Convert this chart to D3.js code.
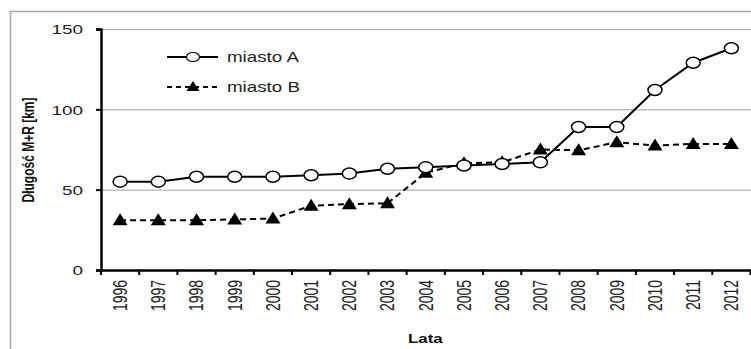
<!DOCTYPE html>
<html><head><meta charset="utf-8">
<script src="https://cdn.jsdelivr.net/npm/d3@7"></script>
<style>body{margin:0;background:#fff}svg{display:block}</style>
</head><body>
<script>
const years = ["1996","1997","1998","1999","2000","2001","2002","2003","2004","2005","2006","2007","2008","2009","2010","2011","2012"];
const miastoA = [55,55,58,58,58,59,60,63,64,65,66,67,89,89,112,129,138];
const miastoB = [31,31,31,31.5,32,40,41,41.5,60.5,66.5,67,75,74.5,79.5,77.5,78.5,78.5];
const yTicks = [0,50,100,150];
const seriesNames = ["miasto A","miasto B"];

const W=751,H=349, SX=1.4;
const svg=d3.select("body").append("svg").attr("width",W).attr("height",H);
svg.append("rect").attr("width",W).attr("height",H).attr("fill","#fff");
svg.append("path").attr("d","M10.5,349 V11.5 H751").attr("fill","none").attr("stroke","#a6a6a6").attr("stroke-width",1.5);

const x=d3.scaleBand().domain(years).range([101,750.5]);
const y=d3.scaleLinear().domain([0,150]).range([270,29]);
const font="'Liberation Sans', Arial, sans-serif";

svg.append("g").selectAll("line").data(yTicks.filter(d=>d>0)).join("line")
 .attr("x1",101).attr("x2",W).attr("y1",d=>y(d)+0.5).attr("y2",d=>y(d)+0.5)
 .attr("stroke","#a0a0a0").attr("stroke-width",1);

const yA=svg.append("g").attr("transform","translate(101,0)")
 .call(d3.axisLeft(y).tickValues(yTicks).tickSize(5).tickPadding(6));
yA.select(".domain").attr("stroke","#000").attr("stroke-width",2.5);
yA.selectAll(".tick line").attr("stroke","#000").attr("stroke-width",2);
yA.selectAll(".tick text").attr("font-family",font).attr("font-size",13.5).attr("fill","#222")
 .attr("x",0).attr("dy","0.35em")
 .attr("transform","translate(-18,0) scale("+SX+",1)");

const xA=svg.append("g").attr("transform","translate(0,270)")
 .call(d3.axisBottom(x).tickSize(0).tickFormat(""));
xA.select(".domain").attr("stroke","#000").attr("stroke-width",2.5);
const edges=years.map(d=>x(d)).concat([x.range()[1]]);
svg.append("g").selectAll("line").data(edges).join("line")
 .attr("x1",d=>d).attr("x2",d=>d).attr("y1",270).attr("y2",275)
 .attr("stroke","#000").attr("stroke-width",2);
svg.append("g").selectAll("text").data(years).join("text")
 .attr("transform",d=>`translate(${x(d)+x.bandwidth()/2},280) scale(${SX},1) rotate(-90)`)
 .attr("text-anchor","end").attr("dy","0.35em")
 .attr("font-family",font).attr("font-size",14).attr("fill","#222").text(d=>d);

svg.append("text").attr("transform",`translate(34,150) scale(1.3,1) rotate(-90)`)
 .attr("text-anchor","middle").attr("font-family",font).attr("font-weight","bold")
 .attr("font-size",12).attr("fill","#111").text("Długość M+R [km]");
svg.append("text").attr("transform",`translate(408,343) scale(1.3,1)`)
 .attr("font-family",font).attr("font-weight","bold")
 .attr("font-size",13).attr("fill","#111").text("Lata");

const cx=d=>x(d)+x.bandwidth()/2;
const line=d3.line().x((d,i)=>cx(years[i])).y(d=>y(d));
const tri="M0,-7 L7.5,5 L-7.5,5 Z";

svg.append("path").datum(miastoB).attr("d",line).attr("fill","none")
 .attr("stroke","#000").attr("stroke-width",2).attr("stroke-dasharray","6,4");
svg.append("g").selectAll("path").data(miastoB).join("path")
 .attr("d",tri).attr("transform",(d,i)=>`translate(${cx(years[i])},${y(d)})`).attr("fill","#000");

svg.append("path").datum(miastoA).attr("d",line).attr("fill","none")
 .attr("stroke","#000").attr("stroke-width",2);
svg.append("g").selectAll("ellipse").data(miastoA).join("ellipse")
 .attr("cx",(d,i)=>cx(years[i])).attr("cy",d=>y(d)).attr("rx",7).attr("ry",5.5)
 .attr("fill","#fff").attr("stroke","#000").attr("stroke-width",1.5);

const lg=svg.append("g");
lg.append("line").attr("x1",167).attr("x2",218).attr("y1",57).attr("y2",57).attr("stroke","#000").attr("stroke-width",2);
lg.append("ellipse").attr("cx",193).attr("cy",57).attr("rx",6.5).attr("ry",4.5).attr("fill","#fff").attr("stroke","#000").attr("stroke-width",1.2);
lg.append("line").attr("x1",167).attr("x2",218).attr("y1",87).attr("y2",87).attr("stroke","#000").attr("stroke-width",2).attr("stroke-dasharray","5,4");
lg.append("path").attr("d","M0,-6 L6.5,4 L-6.5,4 Z").attr("transform","translate(193,87)").attr("fill","#000");
lg.selectAll("text").data(seriesNames).join("text")
 .attr("transform",(d,i)=>`translate(227,${57+i*30}) scale(1.34,1)`)
 .attr("dy","0.35em").attr("font-family",font).attr("font-size",14).attr("fill","#222").text(d=>d);
</script>
</body></html>
